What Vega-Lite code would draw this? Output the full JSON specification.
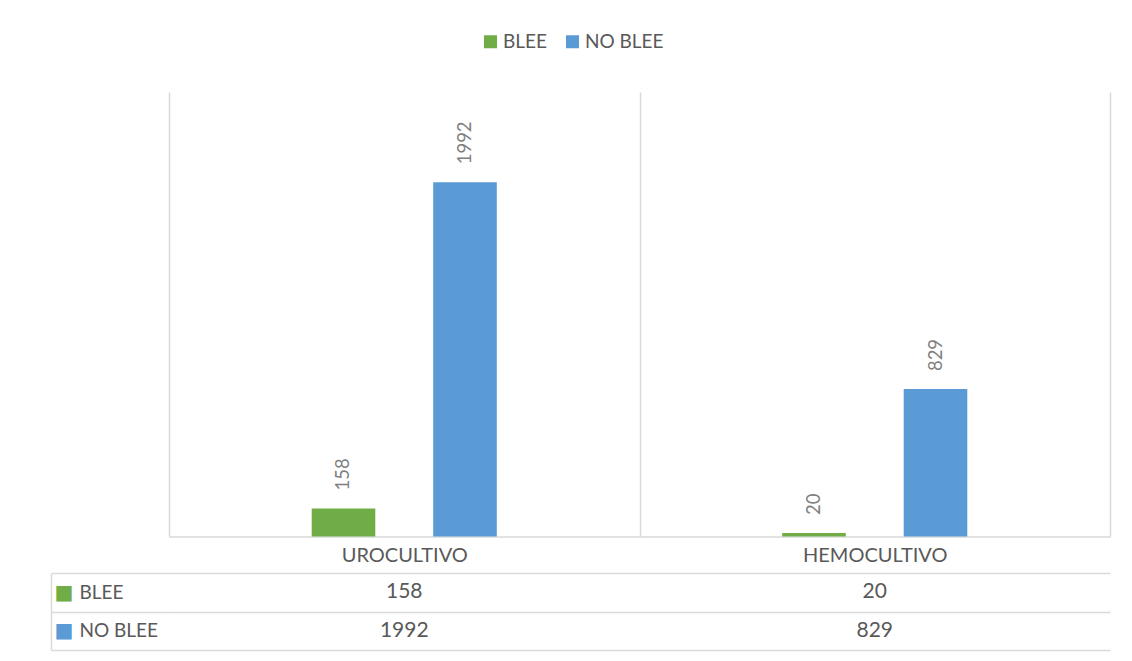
{
  "$schema": "https://vega.github.io/schema/vega-lite/v6.json",
  "width": 941,
  "height": 558,
  "autosize": {"type": "none"},
  "padding": {"left": 169, "top": 92, "right": 22, "bottom": 11},
  "background": "white",
  "config": {
    "view": {"stroke": null},
    "font": "Lato",
    "axis": {
      "gridColor": "#D9D9D9", "gridWidth": 1.5,
      "domainColor": "#D9D9D9", "domainWidth": 1.5,
      "tickColor": "#D9D9D9", "tickWidth": 1.5,
      "labelColor": "#595959", "labelFont": "Lato", "title": null
    }
  },
  "data": {
    "values": [
      {"cultivo": "UROCULTIVO", "tipo": "BLEE", "n": 158},
      {"cultivo": "UROCULTIVO", "tipo": "NO BLEE", "n": 1992},
      {"cultivo": "HEMOCULTIVO", "tipo": "BLEE", "n": 20},
      {"cultivo": "HEMOCULTIVO", "tipo": "NO BLEE", "n": 829}
    ]
  },
  "layer": [
    {
      "mark": {"type": "bar", "width": 63.6},
      "encoding": {
        "x": {
          "field": "cultivo", "type": "nominal",
          "scale": {"domain": ["UROCULTIVO", "HEMOCULTIVO"], "paddingInner": 0, "paddingOuter": 0},
          "axis": {
            "orient": "top", "offset": -444.5, "ticks": false, "domain": true,
            "grid": true, "tickBand": "extent", "labelPadding": -19,
            "labelBaseline": "middle", "labelFontSize": 20, "labelAngle": 0
          }
        },
        "xOffset": {
          "field": "tipo", "type": "nominal",
          "scale": {"domain": ["BLEE", "NO BLEE"], "paddingInner": 0.1276, "paddingOuter": 1}
        },
        "y": {
          "field": "n", "type": "quantitative",
          "scale": {"domain": [0, 2500], "range": [444.5, 0]},
          "axis": null
        },
        "color": {
          "field": "tipo", "type": "nominal",
          "scale": {"domain": ["BLEE", "NO BLEE"], "range": ["#70AD47", "#5B9BD5"]},
          "legend": {
            "orient": "none", "legendX": 312, "legendY": -60, "direction": "horizontal",
            "title": null, "symbolType": "square", "symbolSize": 169, "symbolStrokeWidth": 0,
            "labelFontSize": 19, "labelColor": "#595959", "labelFont": "Lato",
            "columnPadding": 16, "labelOffset": 3, "padding": 0
          }
        }
      }
    },
    {
      "mark": {"type": "text", "angle": 270, "align": "left", "baseline": "middle", "dx": 18, "fontSize": 18.5, "color": "#7F7F7F"},
      "encoding": {
        "x": {"field": "cultivo", "type": "nominal"},
        "xOffset": {"field": "tipo", "type": "nominal"},
        "y": {
          "field": "n", "type": "quantitative",
          "scale": {"domain": [0, 2500], "range": [444.5, 0]},
          "axis": null
        },
        "text": {"field": "n", "type": "quantitative", "format": "d"}
      }
    },
    {
      "mark": {"type": "text", "fontSize": 21, "color": "#595959"},
      "encoding": {
        "x": {"field": "cultivo", "type": "nominal"},
        "y": {
          "field": "tipo", "type": "nominal",
          "scale": {"domain": ["BLEE", "NO BLEE"], "range": [481.3, 558], "paddingInner": 0, "paddingOuter": 0},
          "axis": {
            "orient": "left", "offset": 118, "domain": true, "ticks": true,
            "tickBand": "extent", "tickSize": -118, "grid": true,
            "labelAlign": "left", "labelPadding": 90, "labelFontSize": 19, "labelBaseline": "middle"
          }
        },
        "text": {"field": "n", "type": "quantitative", "format": "d"}
      }
    },
    {
      "mark": {"type": "text", "text": ""},
      "encoding": {
        "y": {
          "field": "tipo", "type": "nominal",
          "scale": {"domain": ["BLEE", "NO BLEE"], "range": [481.3, 558], "paddingInner": 0, "paddingOuter": 0},
          "axis": {
            "orient": "left", "offset": 0, "domain": false, "ticks": false, "grid": false,
            "labelExpr": "'■'", "labelFont": "DejaVu Sans", "labelFontSize": 20,
            "labelPadding": 96, "labelBaseline": "middle",
            "labelColor": {"condition": {"test": "datum.value === 'BLEE'", "value": "#70AD47"}, "value": "#5B9BD5"}
          }
        }
      }
    }
  ],
  "resolve": {"scale": {"y": "independent"}}
}
